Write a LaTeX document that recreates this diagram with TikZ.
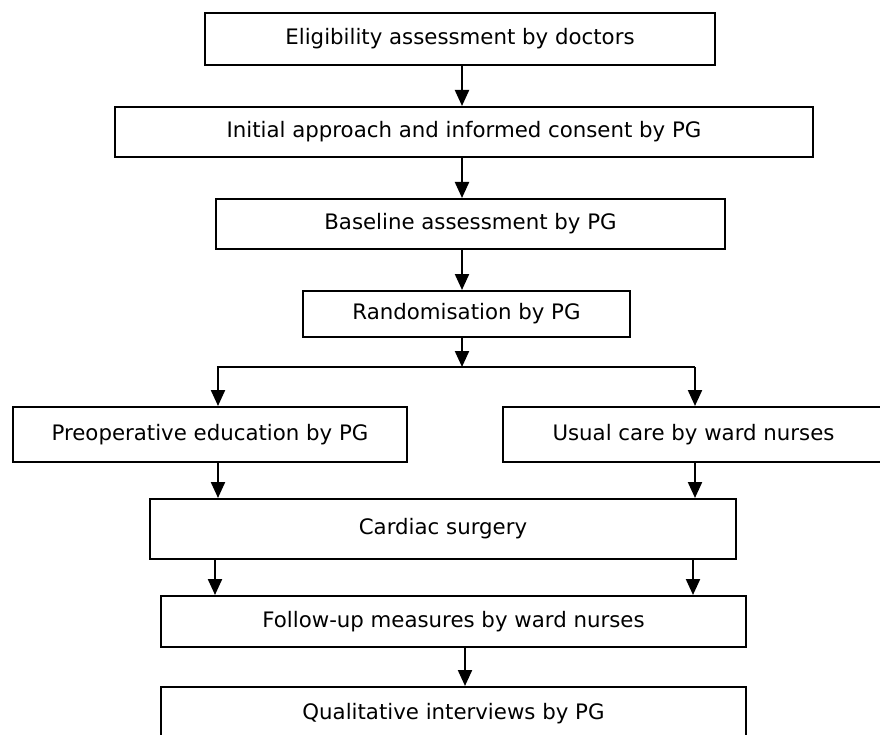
\documentclass[tikz,border=0pt]{standalone}
\usepackage{fontspec}
\setmainfont{DejaVu Sans}
\usetikzlibrary{arrows.meta}
\begin{document}
\begin{tikzpicture}[x=1pt,y=1pt,
  box/.style={draw=black, line width=2pt, inner sep=0pt, font=\fontsize{21.3}{25}\selectfont, align=center},
  arr/.style={line width=2.2pt, -{Triangle[length=16pt,width=14pt]}},
  ln/.style={line width=2.2pt}]
\useasboundingbox (0,0) rectangle (880,-735);
\node[box, minimum width=510pt, minimum height=52pt] (b1) at (460,-39) {Eligibility assessment by doctors};
\node[box, minimum width=698pt, minimum height=50pt] (b2) at (464,-132) {Initial approach and informed consent by PG};
\node[box, minimum width=509pt, minimum height=50pt] (b3) at (470.5,-224) {Baseline assessment by PG};
\node[box, minimum width=327pt, minimum height=46pt] (b4) at (466.5,-314) {Randomisation by PG};
\node[box, minimum width=394pt, minimum height=55pt] (b5) at (210,-434.5) {Preoperative education by PG};
\node[box, minimum width=381pt, minimum height=55pt] (b6) at (693.5,-434.5) {Usual care by ward nurses};
\node[box, minimum width=586pt, minimum height=60pt] (b7) at (443,-529) {Cardiac surgery};
\node[box, minimum width=585pt, minimum height=51pt] (b8) at (453.5,-621.5) {Follow-up measures by ward nurses};
\node[box, minimum width=585pt, minimum height=53pt] (b9) at (453.5,-713.5) {Qualitative interviews by PG};
\coordinate (ax) at (462,0);
\coordinate (j) at (462,-367);
\coordinate (jl) at (218,-367);
\coordinate (jr) at (695,-367);
\coordinate (cl) at (215,0);
\coordinate (cr) at (693,0);
\coordinate (fx) at (465,0);
\draw[arr] (b1.south -| ax) -- (b2.north -| ax);
\draw[arr] (b2.south -| ax) -- (b3.north -| ax);
\draw[arr] (b3.south -| ax) -- (b4.north -| ax);
\draw[arr] (b4.south -| ax) -- (j);
\draw[ln] ([xshift=-1.1pt]jl) -- (jr);
\draw[arr] (jl) -- (b5.north -| jl);
\draw[arr] (jr) -- (b6.north -| jr);
\draw[arr] (b5.south -| jl) -- (b7.north -| jl);
\draw[arr] (b6.south -| jr) -- (b7.north -| jr);
\draw[arr] (b7.south -| cl) -- (b8.north -| cl);
\draw[arr] (b7.south -| cr) -- (b8.north -| cr);
\draw[arr] (b8.south -| fx) -- (b9.north -| fx);
\end{tikzpicture}
\end{document}
